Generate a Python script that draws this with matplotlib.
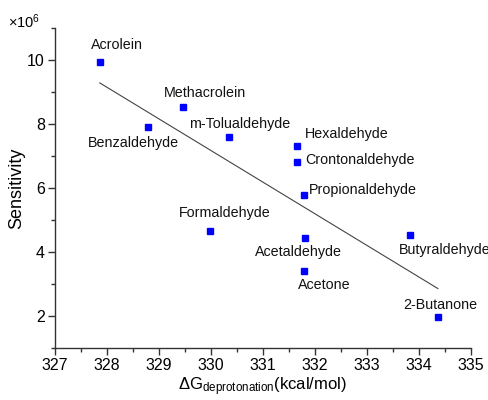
import numpy as np
import matplotlib
matplotlib.use("Agg")
import matplotlib.pyplot as plt
from matplotlib.ticker import MultipleLocator

plt.rcParams["font.family"] = ["Liberation Sans", "DejaVu Sans"]
plt.rcParams["mathtext.fontset"] = "custom"
plt.rcParams["mathtext.rm"] = "Liberation Sans"
plt.rcParams["mathtext.it"] = "Liberation Sans:italic"

compounds = ["Acrolein", "Methacrolein", "Benzaldehyde", "m-Tolualdehyde",
             "Hexaldehyde", "Crontonaldehyde", "Propionaldehyde", "Formaldehyde",
             "Acetaldehyde", "Acetone", "Butyraldehyde", "2-Butanone"]
dg_deprot = [327.87, 329.47, 328.80, 330.35, 331.66, 331.67,
             331.79, 329.99, 331.81, 331.79, 333.84, 334.37]
sensitivity = [9.93, 8.54, 7.90, 7.58, 7.32, 6.82,
               5.78, 4.66, 4.45, 3.42, 4.52, 1.96]  # x1e6

# label offsets in pixels (dx, dy) and horizontal alignment
label_pos = [(17, 17, "center"), (22, 14, "center"), (-15, -16, "center"),
             (11, 13, "center"), (8, 12, "left"), (8, 2, "left"),
             (5, 5, "left"), (15, 18, "center"), (-6, -14, "center"),
             (21, -14, "center"), (34, -15, "center"), (2, 12, "center")]

x = np.array(dg_deprot)
y = np.array(sensitivity)
slope, icpt = np.polyfit(x, y, 1)
xf = np.array([x.min(), x.max()])

fig = plt.figure(figsize=(4.89, 4.0), dpi=100)
ax = fig.add_axes([0.1115, 0.13, 0.851, 0.80])

ax.plot(xf, slope * xf + icpt, color="#444444", lw=0.8)
ax.plot(x, y, ls="none", marker="s", ms=4.3, color="#0000ff", mec="#0000ff")

for name, xi, yi, (dx, dy, ha) in zip(compounds, x, y, label_pos):
    ax.annotate(name, (xi, yi), xytext=(dx, dy), textcoords="offset pixels",
                ha=ha, va="center", fontsize=10.3, color="#111111")

ax.set_xlim(327, 335)
ax.set_ylim(1, 11)
ax.xaxis.set_major_locator(MultipleLocator(1))
ax.xaxis.set_minor_locator(MultipleLocator(0.5))
ax.yaxis.set_major_locator(MultipleLocator(2))
ax.yaxis.set_minor_locator(MultipleLocator(1))
ax.set_yticks([2, 4, 6, 8, 10])

for s in ["top", "right"]:
    ax.spines[s].set_visible(False)
for s in ["left", "bottom"]:
    ax.spines[s].set_color("#333333")
    ax.spines[s].set_linewidth(1.0)

ax.tick_params(which="major", direction="out", length=5, width=1,
               color="#333333", labelsize=11.5, pad=2)
ax.tick_params(which="minor", direction="out", length=3, width=1,
               color="#333333")

ax.set_ylabel("Sensitivity", fontsize=13, labelpad=1)
ax.set_xlabel(r"$\Delta$G$_{\mathrm{deprotonation}}$(kcal/mol)", fontsize=12,
              labelpad=2)
fig.text(0.016, 0.945, r"×10$^{\mathrm{6}}$", fontsize=10.5, va="center")

fig.savefig("out.png", dpi=100)
